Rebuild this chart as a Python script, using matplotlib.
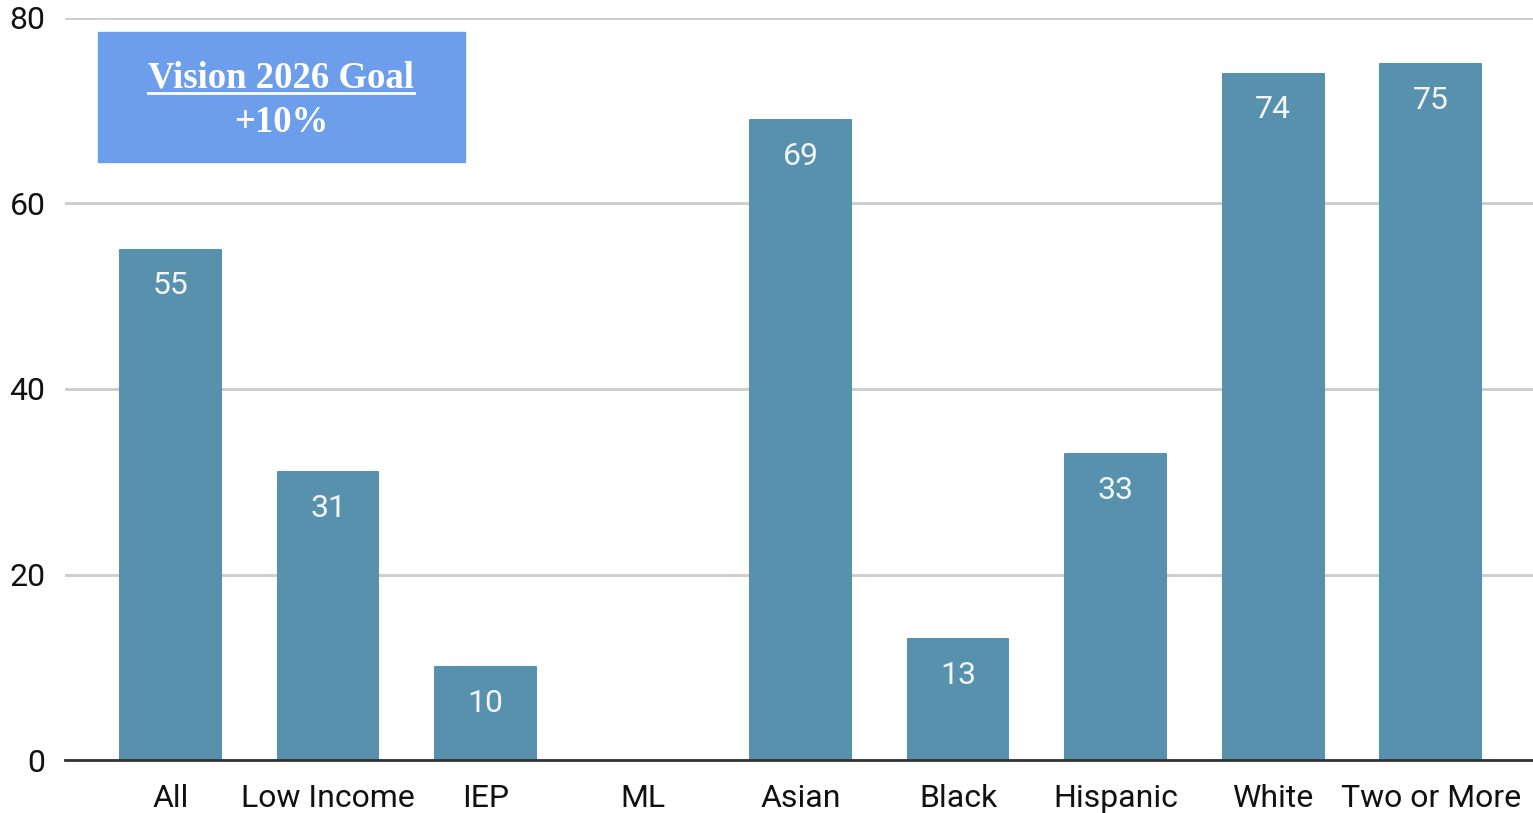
import matplotlib.pyplot as plt
from matplotlib.patches import Rectangle

categories = ["All", "Low Income", "IEP", "ML", "Asian", "Black", "Hispanic", "White", "Two or More"]
values = [55, 31, 10, None, 69, 13, 33, 74, 75]
yticks = [0, 20, 40, 60, 80]

bar_color = "#5891ad"
plt.rcParams['font.family'] = ['Roboto', 'DejaVu Sans']

fig = plt.figure(figsize=(15.33, 8.13), dpi=100)
ax = fig.add_axes([65/1533, 53/813, 1468/1533, 742/813])

xs = [i for i, v in enumerate(values) if v is not None]
hs = [v for v in values if v is not None]
bars = ax.bar(xs, hs, width=0.64, color=bar_color, edgecolor=bar_color,
              linewidth=1.5, joinstyle='round', zorder=3)
for x, h in zip(xs, hs):
    ax.annotate(str(h), (x, h), xytext=(0, -26), textcoords='offset points',
                ha='center', va='center', color='#f2f6f9', fontsize=23, zorder=4)

ax.set_xlim(-0.67, 8.65)
ax.set_ylim(0, 80)
ax.set_yticks(yticks)
ax.set_xticks(range(len(categories)))
ax.set_xticklabels(categories)
ax.tick_params(axis='x', length=0, labelsize=23, colors='#111111', pad=17)
ax.tick_params(axis='y', length=0, labelsize=23, colors='#111111', pad=14)
ax.grid(axis='y', color='#cccccc', linewidth=2, zorder=0)
for s in ['top', 'right', 'left']:
    ax.spines[s].set_visible(False)
ax.spines['bottom'].set_color('#333333')
ax.spines['bottom'].set_linewidth(2)
ax.spines['bottom'].set_zorder(5)

# goal box
fig.patches.append(Rectangle((98/1533, 651/813), 367/1533, 130/813,
                             transform=fig.transFigure, color='#6d9eeb', zorder=10))
t1 = fig.text(281/1533, (813-78)/813, "Vision 2026 Goal", ha='center', va='center',
              color='white', fontsize=26.5, fontweight='bold', family='Liberation Serif', zorder=11)
fig.text(281/1533, (813-123)/813, "+10%", ha='center', va='center',
         color='white', fontsize=26.5, fontweight='bold', family='Liberation Serif', zorder=11)

fig.canvas.draw()
bb = t1.get_window_extent().transformed(fig.transFigure.inverted())
uy = bb.y0 + 0.003
fig.add_artist(plt.Line2D([bb.x0, bb.x1], [uy, uy], transform=fig.transFigure,
                          color='white', linewidth=2, zorder=12))

fig.savefig("out.png", dpi=100)
